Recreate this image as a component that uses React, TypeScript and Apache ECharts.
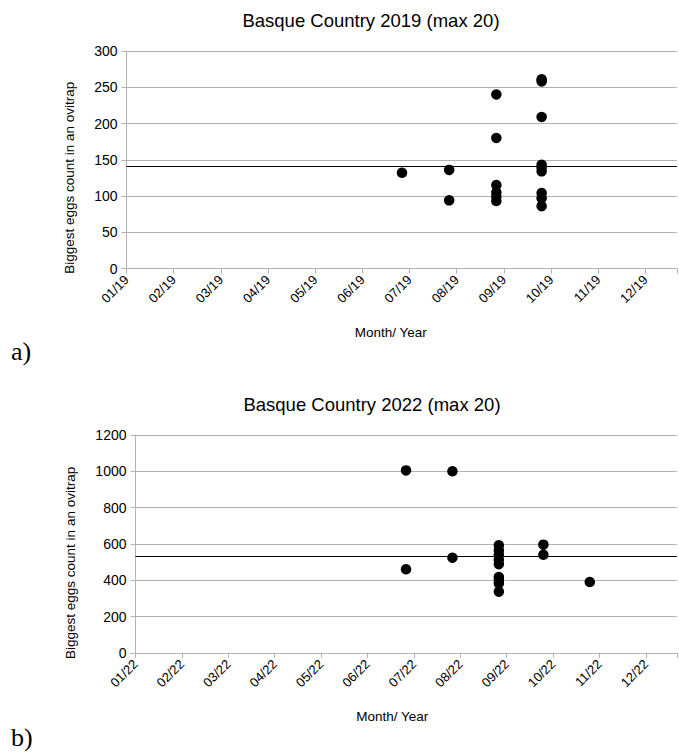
import React, { useEffect, useRef } from "react";
import * as echarts from "echarts";

// Sampling positions, in months since 1 January (01 = 0)
const sampleMonths2019 = [5.84, 6.84, 7.84, 8.8];
const counts2019 = [
  [132],
  [136, 94],
  [240, 180, 115, 105, 99, 93],
  [261, 258, 209, 143, 139, 134, 104, 97, 86],
];
const threshold2019 = 141;

const sampleMonths2022 = [5.83, 6.83, 7.83, 8.79, 9.79];
const counts2022 = [
  [1005, 460],
  [1000, 524],
  [592, 565, 540, 512, 488, 418, 400, 382, 337],
  [596, 540],
  [390],
];
const threshold2022 = 531;

const monthTicks = ["01", "02", "03", "04", "05", "06", "07", "08", "09", "10", "11", "12"];

const toPoints = (months: number[], counts: number[][]) =>
  months.flatMap((m, i) => counts[i].map((c) => [m, c]));

const FONT = "Liberation Sans";
const GRAY = "#b3b3b3";

function xAxis(gridIndex: number, yr: string, padRight: number) {
  return {
    type: "value",
    gridIndex,
    min: 0,
    max: 11.667,
    interval: 1,
    name: "Month/ Year",
    nameLocation: "middle",
    nameGap: 57,
    nameTextStyle: { fontFamily: FONT, fontSize: 13.5, color: "#000", padding: [0, padRight, 0, 0] },
    axisLine: { show: true, lineStyle: { color: GRAY, width: 1 } },
    axisTick: { show: true, length: 5, lineStyle: { color: GRAY } },
    splitLine: { show: false },
    axisLabel: {
      rotate: 45,
      margin: 9,
      fontFamily: FONT,
      fontSize: 13,
      color: "#000",
      formatter: (v: number) =>
        Number.isInteger(v) && v >= 0 && v < 12 ? `${monthTicks[v]}/${yr}` : "",
    },
  };
}

function yAxis(gridIndex: number, max: number, interval: number, gap: number, shift: number) {
  return {
    type: "value",
    gridIndex,
    min: 0,
    max,
    interval,
    name: "Biggest eggs count in an ovitrap",
    nameLocation: "middle",
    nameGap: gap,
    nameTextStyle: { fontFamily: FONT, fontSize: 13.5, color: "#000", padding: [0, shift, 0, 0] },
    axisLine: { show: true, lineStyle: { color: GRAY, width: 1 } },
    axisTick: { show: true, length: 5, lineStyle: { color: GRAY } },
    splitLine: { show: true, lineStyle: { color: GRAY, width: 1 } },
    axisLabel: {
      margin: 9,
      fontFamily: FONT,
      fontSize: 14,
      color: "#000",
      formatter: (v: number) => String(v),
    },
  };
}

function scatter(idx: number, data: number[][], threshold: number) {
  return {
    type: "scatter",
    xAxisIndex: idx,
    yAxisIndex: idx,
    symbolSize: 10.5,
    itemStyle: { color: "#000", opacity: 1 },
    data,
    markLine: {
      silent: true,
      symbol: ["none", "none"],
      label: { show: false },
      lineStyle: { color: "#000", width: 1, type: "solid", opacity: 1 },
      data: [{ yAxis: threshold }],
    },
  };
}

export default function App() {
  const ref = useRef<HTMLDivElement>(null);
  useEffect(() => {
    if (!ref.current) return;
    const chart = echarts.init(ref.current, null, { renderer: "svg" });
    chart.setOption({
      animation: false,
      backgroundColor: "#fff",
      title: [
        {
          text: "Basque Country 2019 (max 20)",
          left: 371,
          top: 11,
          padding: 0,
          textAlign: "center",
          textStyle: { fontFamily: FONT, fontSize: 18.5, fontWeight: "normal", color: "#000" },
        },
        {
          text: "Basque Country 2022 (max 20)",
          left: 372,
          top: 395,
          padding: 0,
          textAlign: "center",
          textStyle: { fontFamily: FONT, fontSize: 18.5, fontWeight: "normal", color: "#000" },
        },
      ],
      grid: [
        { left: 126.5, top: 51, width: 560, height: 217.5 },
        { left: 135.5, top: 435, width: 552, height: 217.8 },
      ],
      xAxis: [xAxis(0, "19", 22), xAxis(1, "22", 28)],
      yAxis: [yAxis(0, 300, 50, 50, 36), yAxis(1, 1200, 200, 58, 38)],
      series: [
        scatter(0, toPoints(sampleMonths2019, counts2019), threshold2019),
        scatter(1, toPoints(sampleMonths2022, counts2022), threshold2022),
      ],
      graphic: [
        {
          type: "text",
          left: 11,
          top: 338,
          style: { text: "a)", font: "26px 'Liberation Serif'", fill: "#000" },
        },
        {
          type: "text",
          left: 11,
          top: 724,
          style: { text: "b)", font: "26px 'Liberation Serif'", fill: "#000" },
        },
      ],
    });
    return () => chart.dispose();
  }, []);
  return (
    <div
      ref={ref}
      style={{ position: "fixed", left: 0, top: 0, width: 679, height: 753 }}
    />
  );
}
